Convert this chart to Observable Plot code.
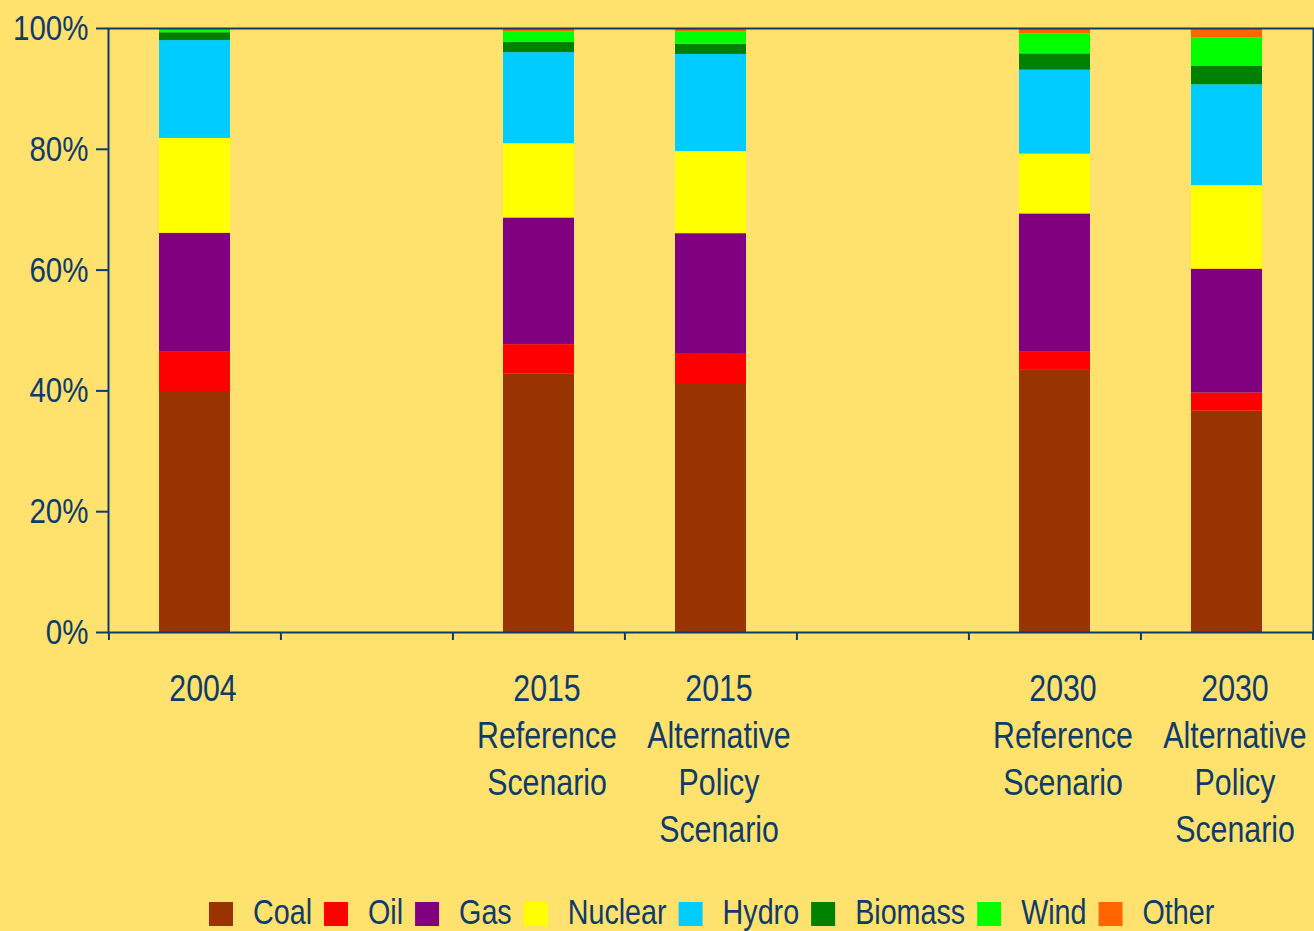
<!DOCTYPE html>
<html>
<head>
<meta charset="utf-8">
<script src="https://cdn.jsdelivr.net/npm/d3@7"></script>
<script src="https://cdn.jsdelivr.net/npm/@observablehq/plot@0.6"></script>
<style>
  html, body { margin: 0; padding: 0; background: #FFE16E; }
  #wrap { width: 1314px; height: 931px; overflow: hidden; background: #FFE16E; }
  #wrap svg { display: block; }
</style>
</head>
<body>
<div id="wrap"><div id="chart"></div><div id="legend"></div></div>
<script>
// Slots on the x axis (two empty slots act as spacers)
const slots = ["2004", "gapA", "2015 Ref", "2015 Alt", "gapB", "2030 Ref", "2030 Alt"];
const slotLabels = ["2004", "", "2015\nReference\nScenario", "2015\nAlternative\nPolicy\nScenario", "", "2030\nReference\nScenario", "2030\nAlternative\nPolicy\nScenario"];
const bars = ["2004", "2015 Ref", "2015 Alt", "2030 Ref", "2030 Alt"];

const fuels = ["Coal", "Oil", "Gas", "Nuclear", "Hydro", "Biomass", "Wind", "Other"];
const fuelColors = ["#993300", "#FF0000", "#800080", "#FFFF00", "#00CCFF", "#008000", "#00FF00", "#FF6600"];

// Shares (%) per bar, in order of `bars`
const coal    = [39.9, 42.8, 41.1, 43.4, 36.6];
const oil     = [6.5, 4.9, 5.0, 3.0, 3.0];
const gas     = [19.7, 21.0, 20.0, 22.9, 20.5];
const nuclear = [15.7, 12.3, 13.6, 9.9, 13.8];
const hydro   = [16.2, 15.1, 16.1, 13.9, 16.7];
const biomass = [1.3, 1.7, 1.7, 2.7, 3.1];
const wind    = [0.4, 1.7, 2.0, 3.3, 4.6];
const other   = [0.3, 0.6, 0.6, 0.9, 1.6];

const yTicks = [0, 0.2, 0.4, 0.6, 0.8, 1];

const series = [coal, oil, gas, nuclear, hydro, biomass, wind, other];
const data = [];
bars.forEach((b, i) => fuels.forEach((f, j) => data.push({slot: b, fuel: f, value: series[j][i]})));

const ink = "#0E3B69";
const bg = "#FFE16E";
const font = "'Liberation Sans', Arial, sans-serif";
const narrow = 0.82;
const labelOf = Object.fromEntries(slots.map((s, i) => [s, slotLabels[i]]));
const W = 1314, ML = 108, MR = 1, H = 880;
const half = (W - ML - MR) / slots.length / 2;

const chart = Plot.plot({
  width: W,
  height: H,
  marginLeft: ML,
  marginRight: MR,
  marginTop: 28,
  marginBottom: 248,
  style: {background: bg, fontFamily: font, color: ink, overflow: "visible"},
  x: {type: "band", domain: slots, paddingInner: 0.59, paddingOuter: 0.295},
  y: {domain: [0, 1]},
  color: {domain: fuels, range: fuelColors},
  marks: [
    Plot.barY(data, {x: "slot", y: "value", fill: "fuel", offset: "normalize"}),
    Plot.frame({stroke: ink, strokeWidth: 2}),
    Plot.axisY({ticks: yTicks, tickFormat: d => Math.round(d * 100) + "%", tickSize: 12, tickPadding: 8,
      fontSize: 36, stroke: ink, fill: ink, strokeWidth: 2, strokeOpacity: 1, label: null}),
    // boundary ticks between slots
    Plot.axisX({ticks: slots, tickFormat: () => "", tickSize: 8, dx: -half, stroke: ink, strokeWidth: 2, strokeOpacity: 1, label: null}),
    Plot.axisX({ticks: [slots[slots.length - 1]], tickFormat: () => "", tickSize: 8, dx: half, stroke: ink, strokeWidth: 2, strokeOpacity: 1, label: null}),
    // category labels
    Plot.axisX({ticks: slots, tickFormat: d => labelOf[d], tickSize: 0, tickPadding: 35, dx: 8,
      fontSize: 37, lineHeight: 1.27, fill: ink, label: null})
  ]
});

// Condense axis text horizontally (Arial Narrow look)
chart.querySelectorAll('g[aria-label$="tick label"] text').forEach(t => {
  const tr = t.getAttribute("transform");
  if (tr) {
    t.setAttribute("transform", tr + ` scale(${narrow},1)`);
  } else {
    const x = +t.getAttribute("x") || 0, y = +t.getAttribute("y") || 0;
    t.removeAttribute("x"); t.removeAttribute("y");
    t.setAttribute("transform", `translate(${x},${y}) scale(${narrow},1)`);
  }
});
document.getElementById("chart").append(chart);

// Legend (separate SVG below the chart)
const LH = 931 - H;
const lsvg = d3.select("#legend").append("svg")
  .attr("width", W).attr("height", LH)
  .style("background", bg)
  .attr("font-family", font).attr("font-size", 35);
let x = 209;
const swTop = 22, base = 43.5;
fuels.forEach((f, i) => {
  lsvg.append("rect").attr("x", x).attr("y", swTop).attr("width", 24).attr("height", 24).attr("fill", fuelColors[i]);
  x += 24 + 20;
  const t = lsvg.append("text").attr("fill", ink)
    .attr("transform", `translate(${x},${base}) scale(${narrow},1)`).text(f);
  x += t.node().getComputedTextLength() * narrow + 12;
});
</script>
</body>
</html>
